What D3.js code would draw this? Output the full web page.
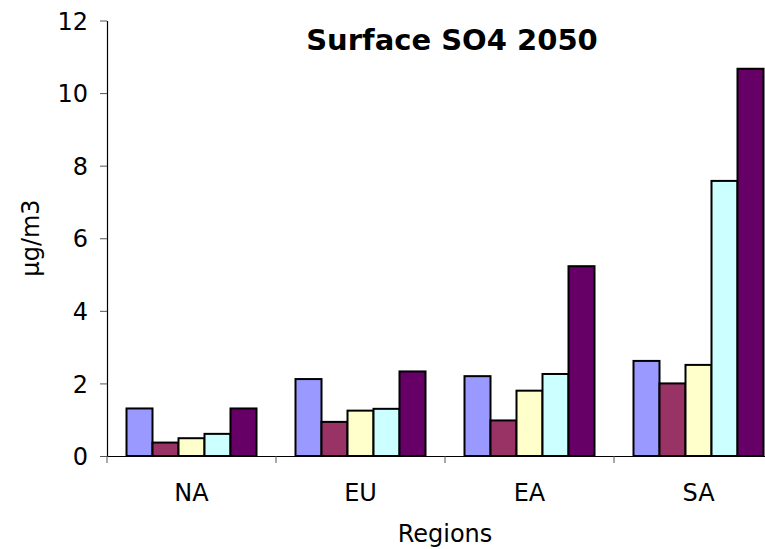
<!DOCTYPE html>
<html>
<head>
<meta charset="utf-8">
<script src="https://cdn.jsdelivr.net/npm/d3@7"></script>
<style>
  html, body { margin: 0; padding: 0; background: #fff; }
  svg { display: block; }
  text { font-family: "DejaVu Sans", Verdana, sans-serif; fill: #000; }
</style>
</head>
<body>
<svg id="chart" width="765" height="549"></svg>
<script>
// Regions along the x axis
const regions = ["NA", "EU", "EA", "SA"];
// Five scenarios, drawn left to right within each region
const seriesNames = ["s1", "s2", "s3", "s4", "s5"];
const seriesColors = ["#9999FF", "#993366", "#FFFFCC", "#CCFFFF", "#660066"];
// Surface SO4 (µg/m3) per scenario, in region order
const s1 = [1.31, 2.12, 2.20, 2.62];
const s2 = [0.37, 0.94, 0.98, 2.00];
const s3 = [0.49, 1.25, 1.80, 2.51];
const s4 = [0.61, 1.30, 2.26, 7.58];
const s5 = [1.31, 2.33, 5.23, 10.67];
const yTicks = [0, 2, 4, 6, 8, 10, 12];

const seriesValues = [s1, s2, s3, s4, s5];

const svg = d3.select("#chart");
const plotLeft = 107, plotTop = 20.5, plotBottom = 456, bandW = 169;

const x = d3.scaleBand().domain(regions).range([plotLeft, plotLeft + bandW * regions.length]).padding(0);
const xi = d3.scaleBand().domain(seriesNames).range([0, x.bandwidth()]).paddingInner(0).paddingOuter(0.75);
const y = d3.scaleLinear().domain([0, 12]).range([plotBottom, plotTop]);

// bars
const groups = svg.append("g").selectAll("g")
  .data(regions).join("g")
  .attr("transform", d => `translate(${x(d)},0)`);

groups.selectAll("rect")
  .data((r, ri) => seriesNames.map((s, si) => ({ s, si, v: seriesValues[si][ri] })))
  .join("rect")
  .attr("x", d => xi(d.s))
  .attr("y", d => y(d.v))
  .attr("width", xi.bandwidth())
  .attr("height", d => y(0) - y(d.v))
  .attr("fill", d => seriesColors[d.si])
  .attr("stroke", "#000")
  .attr("stroke-width", 2);

// y axis
const yAxis = svg.append("g")
  .attr("transform", `translate(${plotLeft},0)`)
  .call(d3.axisLeft(y).tickValues(yTicks).tickFormat(d3.format("d")).tickSize(7).tickSizeOuter(0).tickPadding(12));
yAxis.select(".domain").attr("stroke", "#000").attr("stroke-width", 1.2);
yAxis.selectAll(".tick line").attr("stroke", "#555");
yAxis.selectAll(".tick text").style("font-size", "24px").attr("dy", "0.36em");

// x axis baseline and category separators
const xAxis = svg.append("g")
  .attr("transform", `translate(0,${plotBottom})`)
  .call(d3.axisBottom(x).tickSize(0).tickSizeOuter(0).tickPadding(28));
xAxis.select(".domain").attr("stroke", "#000").attr("stroke-width", 1.2);
xAxis.selectAll(".tick text").style("font-size", "24px");
xAxis.selectAll("line.sep")
  .data(regions).join("line")
  .attr("class", "sep")
  .attr("x1", d => x(d)).attr("x2", d => x(d))
  .attr("y1", 0).attr("y2", 7)
  .attr("stroke", "#555");

// title and axis titles
svg.append("text")
  .attr("x", 452).attr("y", 50)
  .attr("text-anchor", "middle")
  .style("font-size", "29px").style("font-weight", "bold")
  .text("Surface SO4 2050");

svg.append("text")
  .attr("x", 445).attr("y", 542)
  .attr("text-anchor", "middle")
  .style("font-size", "24px")
  .text("Regions");

svg.append("text")
  .attr("transform", "translate(39,238) rotate(-90)")
  .attr("text-anchor", "middle")
  .style("font-size", "24px")
  .text("µg/m3");
</script>
</body>
</html>
